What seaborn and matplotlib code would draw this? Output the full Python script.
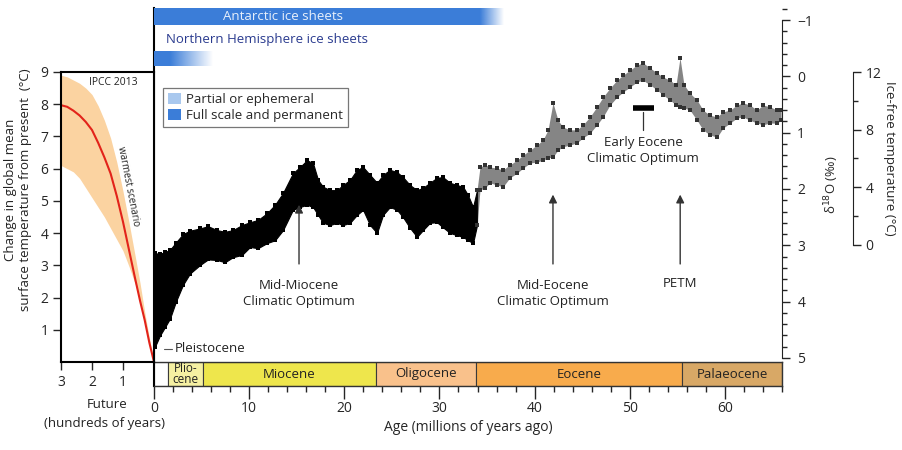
import numpy as np
import pandas as pd
import matplotlib
matplotlib.use('Agg')
import matplotlib.pyplot as plt
from matplotlib.patches import Patch
from matplotlib.colors import to_rgb
from matplotlib.ticker import MultipleLocator
import seaborn as sns

sns.set_style('ticks')
plt.rcParams['font.family'] = ['Open Sans', 'DejaVu Sans']

W, H = 903, 450

# ---- data ----
# benthic d18O cloud: age (Ma), lower / upper edge of the cloud (per mil)
age = [0.1, 0.63, 1.16, 1.68, 2.3, 3.05, 3.78, 4.83, 5.68, 6.62, 7.46, 8.3, 9.25, 10.09,
       10.93, 11.88, 12.72, 13.56, 14.6, 15.34, 16.08, 16.71, 17.24, 17.76, 18.5, 19.23,
       19.86, 20.6, 21.33, 21.97, 22.7, 23.44, 24.07, 24.8, 25.54, 26.17, 26.9, 27.64,
       28.27, 29.0, 29.74, 30.37, 31.11, 31.84, 32.48, 33.0, 33.53, 33.95, 34.26, 34.79,
       35.31, 36.05, 36.68, 37.41, 38.15, 38.78, 39.52, 40.25, 40.88, 41.41, 41.93, 42.46,
       42.98, 43.72, 44.46, 45.09, 45.82, 46.56, 47.19, 47.92, 48.66, 49.29, 50.03, 50.76,
       51.39, 52.13, 52.86, 53.49, 54.23, 54.86, 55.28, 55.7, 56.33, 57.07, 57.7, 58.43,
       59.17, 59.8, 60.54, 61.27, 61.9, 62.64, 63.38, 64.0, 64.74, 65.48, 65.9]
d18o_min = [3.14, 3.15, 3.12, 3.08, 2.95, 2.80, 2.74, 2.70, 2.66, 2.73, 2.76, 2.73, 2.64, 2.59,
            2.55, 2.43, 2.28, 2.07, 1.72, 1.61, 1.49, 1.54, 1.84, 1.96, 2.02, 2.02,
            1.93, 1.84, 1.66, 1.61, 1.75, 1.89, 1.75, 1.66, 1.70, 1.79, 1.93, 2.02,
            1.98, 1.89, 1.80, 1.79, 1.89, 1.93, 1.96, 2.11, 2.32, 2.02, 1.61, 1.57,
            1.61, 1.63, 1.66, 1.57, 1.49, 1.40, 1.31, 1.22, 1.13, 0.95, 0.47, 0.78,
            0.90, 0.95, 0.95, 0.86, 0.72, 0.54, 0.37, 0.21, 0.07, -0.02, -0.11, -0.20,
            -0.24, -0.15, -0.06, 0.01, 0.07, 0.15, -0.33, 0.15, 0.30, 0.42, 0.60, 0.69,
            0.72, 0.63, 0.60, 0.51, 0.47, 0.51, 0.60, 0.51, 0.54, 0.60, 0.60]
d18o_max = [4.80, 4.60, 4.45, 4.30, 4.00, 3.70, 3.50, 3.35, 3.25, 3.26, 3.30, 3.21, 3.17, 3.03,
            3.05, 2.96, 2.91, 2.73, 2.37, 2.32, 2.28, 2.32, 2.46, 2.60, 2.64, 2.60,
            2.64, 2.60, 2.46, 2.37, 2.64, 2.78, 2.46, 2.32, 2.37, 2.50, 2.69, 2.85,
            2.73, 2.60, 2.59, 2.68, 2.78, 2.82, 2.85, 2.91, 2.96, 2.64, 2.02, 1.98,
            1.89, 1.93, 1.96, 1.80, 1.72, 1.63, 1.54, 1.52, 1.49, 1.45, 1.43, 1.31,
            1.25, 1.22, 1.18, 1.09, 1.01, 0.86, 0.72, 0.51, 0.37, 0.28, 0.19, 0.10,
            0.07, 0.15, 0.24, 0.33, 0.42, 0.51, 0.54, 0.56, 0.60, 0.78, 0.95, 1.04,
            1.08, 0.92, 0.83, 0.74, 0.72, 0.78, 0.83, 0.86, 0.83, 0.83, 0.78]

# IPCC 2013 warmest scenario (hundreds of years into the future, deg C)
future = [3.0, 2.8, 2.6, 2.4, 2.2, 2.0, 1.8, 1.6, 1.4, 1.2, 1.0, 0.8, 0.6, 0.45, 0.3, 0.15, 0.0]
warm_mid = [7.97, 7.92, 7.8, 7.65, 7.45, 7.2, 6.8, 6.35, 5.85, 5.15, 4.35, 3.45, 2.55, 1.9,
            1.3, 0.6, 0.0]
warm_high = [8.9, 8.85, 8.75, 8.65, 8.5, 8.3, 7.95, 7.5, 6.95, 6.2, 5.3, 4.3, 3.25, 2.45,
             1.55, 0.75, 0.0]
warm_low = [6.1, 6.0, 5.9, 5.7, 5.4, 5.1, 4.8, 4.5, 4.15, 3.8, 3.45, 2.95, 2.4, 1.85, 1.2,
            0.55, 0.0]

# epochs
epochs = ['', 'Plio-\ncene', 'Miocene', 'Oligocene', 'Eocene', 'Palaeocene']
ep_start = [0.0, 1.5, 5.2, 23.3, 33.8, 55.5]
ep_end = [1.5, 5.2, 23.3, 33.8, 55.5, 66.0]
ep_colors = ['white', '#f5f0a2', '#eee64c', '#f9c18b', '#f8ab4c', '#d8a866']

# ice sheets: full-scale end and fade-out end (Ma)
ice_names = ['Antarctic ice sheets', 'Northern Hemisphere ice sheets']
ice_full = [34.3, 1.7]
ice_fade = [36.8, 6.2]

BLUE = '#3b7dd8'

fig = plt.figure(figsize=(W / 100, H / 100), dpi=100)


def box(x0, y0, x1, y1):
    return [x0 / W, 1 - y1 / H, (x1 - x0) / W, (y1 - y0) / H]


# ---- main d18O panel ----
px_per = (358 - 20) / 6
d_top = -1 - (20 - 8) / px_per
d_bot = 5 + (362 - 358) / px_per

ax = fig.add_axes(box(154, 8, 782, 362))
ax.patch.set_alpha(0)
ax.set_xlim(0, 66)
ax.set_ylim(d_bot, d_top)

cloud = pd.DataFrame({'age': age, 'lo': d18o_min, 'hi': d18o_max})
dense = cloud[cloud['age'] <= 34.0]
sparse = cloud[cloud['age'] >= 33.95]
ax.fill_between(dense['age'], dense['lo'], dense['hi'], color='black', lw=0.8,
                edgecolor='black')
ax.fill_between(sparse['age'], sparse['lo'], sparse['hi'], color='#222222', alpha=0.55,
                lw=0)
for col in ['lo', 'hi']:
    sns.scatterplot(data=dense, x='age', y=col, ax=ax, s=10, color='black', marker='s',
                    linewidth=0)
    sns.scatterplot(data=sparse, x='age', y=col, ax=ax, s=5, color='#333333', marker='s',
                    linewidth=0)
ax.set_xlabel('')

for s in ['top', 'bottom']:
    ax.spines[s].set_visible(False)
ax.spines['left'].set_linewidth(1.5)
ax.spines['left'].set_color('black')
ax.spines['right'].set_bounds(-1, 5)
ax.spines['right'].set_color('#222222')
ax.set_xticks([])
ax.yaxis.tick_right()
ax.set_yticks(range(-1, 6))
ax.yaxis.set_minor_locator(MultipleLocator(0.2))
ax.tick_params(axis='y', which='major', direction='out', length=6, width=1, labelsize=10,
               pad=5)
ax.tick_params(axis='y', which='minor', direction='out', length=3.5, width=1)
ax.yaxis.set_label_position('right')
ax.set_ylabel('δ$^{18}$O (‰)', fontsize=9.5, labelpad=7)

# annotations
ann_kw = dict(ha='center', va='center', fontsize=9.5, color='#222222', linespacing=1.3)
arrow = dict(arrowstyle='-|>', color='#333333', lw=1.0, mutation_scale=12)
for x, txt, ty in [(15.24, 'Mid-Miocene\nClimatic Optimum', 3.86),
                   (41.93, 'Mid-Eocene\nClimatic Optimum', 3.86),
                   (55.3, 'PETM', 3.67)]:
    ax.annotate('', xy=(x, 2.05 if x > 30 else 2.23), xytext=(x, 3.38), arrowprops=arrow)
    ax.text(x, ty, txt, **ann_kw)
ax.plot([50.3, 52.5], [0.56, 0.56], color='black', lw=4, solid_capstyle='butt')
ax.plot([51.4, 51.4], [0.63, 0.95], color='#333333', lw=0.9)
ax.text(51.4, 1.31, 'Early Eocene\nClimatic Optimum', **ann_kw)
ax.plot([1.0, 1.9], [4.84, 4.84], color='#555555', lw=0.8)
ax.text(2.2, 4.84, 'Pleistocene', ha='left', va='center', fontsize=9.5, color='#222222')

# ---- epoch bar ----
axe = fig.add_axes(box(154, 362, 782, 386))
axe.set_xlim(0, 66)
axe.set_ylim(0, 1)
axe.barh(0.5, np.subtract(ep_end, ep_start), left=ep_start, height=1, color=ep_colors,
         edgecolor='#3a3a3a', linewidth=0.8)
for name, s, e in zip(epochs, ep_start, ep_end):
    if name.startswith('Plio'):
        axe.text((s + e) / 2, 0.5, name, ha='center', va='center', fontsize=8.5,
                 linespacing=0.8, color='#222222')
    else:
        axe.text((s + e) / 2, 0.5, name, ha='center', va='center', fontsize=9.5,
                 color='#222222')
axe.set_yticks([])
axe.set_xticks(range(0, 70, 10))
axe.xaxis.set_minor_locator(MultipleLocator(2))
axe.tick_params(axis='x', which='major', direction='out', length=9, width=1, labelsize=10,
                pad=2)
axe.tick_params(axis='x', which='minor', direction='out', length=4, width=1)
for s in axe.spines.values():
    s.set_linewidth(1.0)
    s.set_color('#333333')
axe.spines['left'].set_linewidth(1.5)
axe.spines['left'].set_color('black')
axe.set_xlabel('Age (millions of years ago)', fontsize=10, labelpad=3)

# ---- ice sheet bars ----
axi = fig.add_axes(box(154, 8, 782, 67), zorder=3)
axi.patch.set_alpha(0)
rows = [(0, 17), (43, 58)]
for (r0, r1), full, fade in zip(rows, ice_full, ice_fade):
    axi.barh((r0 + r1) / 2, full, left=0, height=r1 - r0, color=BLUE, linewidth=0)
    grad = np.zeros((1, 200, 4))
    grad[..., :3] = to_rgb(BLUE)
    grad[..., 3] = np.linspace(1, 0, 200)
    axi.imshow(grad, extent=(full, fade, r1, r0), aspect='auto', interpolation='bilinear')
axi.set_xlim(0, 66)
axi.set_ylim(59, 0)
axi.axis('off')
axi.text(13.6, 8.5, ice_names[0], ha='center', va='center', fontsize=9.5, color='#e8f0fb')
axi.text(1.3, 32, ice_names[1], ha='left', va='center', fontsize=9.5, color='#2a3b8f')

leg = fig.legend(handles=[Patch(facecolor='#a9c8ee', edgecolor='none', label='Partial or ephemeral'),
                          Patch(facecolor=BLUE, edgecolor='none', label='Full scale and permanent')],
                 loc='upper left', bbox_to_anchor=(163 / W, 1 - 88 / H), frameon=True,
                 fancybox=False, edgecolor='#555555', fontsize=9.5, handlelength=1.0,
                 handleheight=0.9, handletextpad=0.4, borderpad=0.35, labelspacing=0.25,
                 borderaxespad=0)
leg.get_frame().set_linewidth(0.9)

# ---- left future panel ----
axl = fig.add_axes(box(61, 72, 154, 362))
axl.fill_between(future, warm_low, warm_high, color='#fbd3a1', lw=0)
sns.lineplot(x=future, y=warm_mid, ax=axl, color='#e2231a', lw=1.5)
axl.set_xlim(3, 0)
axl.set_ylim(0, 9)
axl.set_xticks([3, 2, 1])
axl.set_yticks(range(1, 10))
axl.tick_params(axis='both', which='major', direction='out', length=6, width=1, labelsize=10,
                pad=3)
for s in axl.spines.values():
    s.set_linewidth(1.5)
    s.set_color('black')
axl.text(0.56, 0.982, 'IPCC 2013', transform=axl.transAxes, ha='center', va='top',
         fontsize=7.5, color='#222222')
axl.text(0.84, 5.45, 'warmest scenario', rotation=-79, ha='center', va='center',
         fontsize=7, color='#222222')

fig.text(18 / W, 1 - 190 / H,
         'Change in global mean\nsurface temperature from present  (°C)',
         rotation=90, ha='center', va='center', fontsize=9.5, linespacing=1.15,
         multialignment='center', color='#222222')
fig.text(107.5 / W, 1 - 404 / H, 'Future', ha='center', va='center', fontsize=9.5,
         color='#222222')
fig.text(105 / W, 1 - 424 / H, '(hundreds of years)', ha='center', va='center',
         fontsize=9.5, color='#222222')

# ---- ice-free temperature scale ----
axt = fig.add_axes(box(843, 72, 853, 245))
axt.patch.set_alpha(0)
axt.set_ylim(0, 12)
for s in ['left', 'top', 'bottom']:
    axt.spines[s].set_visible(False)
axt.spines['right'].set_color('#222222')
axt.set_xticks([])
axt.yaxis.tick_right()
axt.set_yticks([0, 4, 8, 12])
axt.yaxis.set_minor_locator(MultipleLocator(2))
axt.tick_params(axis='y', which='major', direction='out', length=6, width=1, labelsize=10,
                pad=3)
axt.tick_params(axis='y', which='minor', direction='out', length=3.5, width=1)
axt.yaxis.set_label_position('right')
axt.set_ylabel('Ice-free temperature (°C)', rotation=270, va='bottom', fontsize=9.5,
               labelpad=1)

fig.savefig('out.png', dpi=100)
